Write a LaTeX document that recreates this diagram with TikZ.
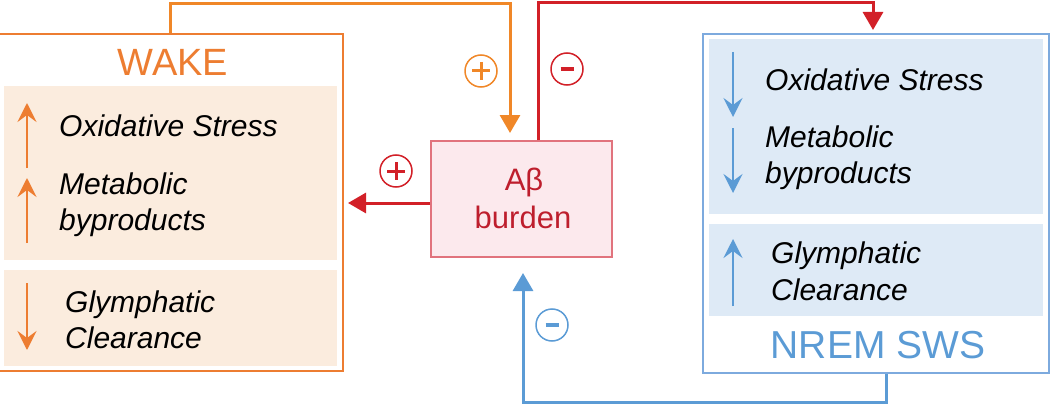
\documentclass[tikz,border=0pt]{standalone}
\usepackage{fontspec}
\setmainfont{Liberation Sans}
\usetikzlibrary{arrows.meta,calc}
\definecolor{orgC}{RGB}{237,125,49}
\definecolor{orgLine}{RGB}{240,135,40}
\definecolor{orgFill}{RGB}{251,236,222}
\definecolor{redC}{RGB}{210,32,40}
\definecolor{redText}{RGB}{190,30,45}
\definecolor{redFill}{RGB}{252,233,237}
\definecolor{redBorder}{RGB}{225,115,125}
\definecolor{bluC}{RGB}{91,155,213}
\definecolor{bluFill}{RGB}{222,234,246}
\definecolor{bluBorder}{RGB}{125,170,222}
\tikzset{
  x=1pt,y=-1pt,
  outerbox/.style={draw=#1,line width=1.6pt,inner sep=0pt},
  panel/.style={fill=#1,draw=none},
  itxt/.style={font=\fontsize{30}{36}\selectfont\itshape,anchor=base west,inner sep=0pt,text=black},
  conn/.style={line width=3pt,draw=#1,-{Triangle[length=18pt,width=20pt]}},
  tiny/.style={line width=2pt,draw=#1,-{Stealth[length=19pt,width=19pt,inset=7pt]}},
  sign/.style={circle,draw=#1,line width=1.5pt,minimum size=32pt,inner sep=0pt},
}
\begin{document}
\begin{tikzpicture}
\useasboundingbox (0,0) rectangle (1050,404);
% WAKE box
\node[outerbox=orgC,minimum width=345pt,minimum height=337pt] (wake) at (170.5,202.5) {};
\fill[orgFill] (4,86) rectangle (337,260);
\fill[orgFill] (4,270) rectangle (337,366);
\node[font=\fontsize{38}{40}\selectfont,text=orgC,anchor=base,inner sep=0pt] (waket) at (173,75) {WAKE};
\coordinate (wa1s) at (27,168); \coordinate (wa1e) at (27,103);
\coordinate (wa2s) at (27,243); \coordinate (wa2e) at (27,178);
\coordinate (wa3s) at (27,283); \coordinate (wa3e) at (27,350);
\draw[tiny=orgC] (wa1s) -- (wa1e);
\draw[tiny=orgC] (wa2s) -- (wa2e);
\draw[tiny=orgC] (wa3s) -- (wa3e);
\node[itxt] (w1) at (59,136) {Oxidative Stress};
\node[itxt] (w2) at (59,194) {Metabolic};
\node[itxt] (w3) at (59,230) {byproducts};
\node[itxt] (w4) at (65,312) {Glymphatic};
\node[itxt] (w5) at (65,348) {Clearance};
% NREM box
\node[outerbox=bluBorder,minimum width=346pt,minimum height=339pt] (nrem) at (876,203.5) {};
\fill[bluFill] (709,39) rectangle (1043,214);
\fill[bluFill] (709,224) rectangle (1043,316);
\node[font=\fontsize{39}{41}\selectfont,text=bluC,anchor=base,inner sep=0pt] (nremt) at (878,358) {NREM SWS};
\coordinate (nb1s) at (733,52); \coordinate (nb1e) at (733,117);
\coordinate (nb2s) at (733,128); \coordinate (nb2e) at (733,193);
\coordinate (nb3s) at (733,306); \coordinate (nb3e) at (733,239);
\draw[tiny=bluC] (nb1s) -- (nb1e);
\draw[tiny=bluC] (nb2s) -- (nb2e);
\draw[tiny=bluC] (nb3s) -- (nb3e);
\node[itxt] (n1) at (765,90) {Oxidative Stress};
\node[itxt] (n2) at (765,147) {Metabolic};
\node[itxt] (n3) at (765,183) {byproducts};
\node[itxt] (n4) at (771,263) {Glymphatic};
\node[itxt] (n5) at (771,300) {Clearance};
% Abeta box
\node[draw=redBorder,fill=redFill,line width=1.3pt,minimum width=181pt,minimum height=116pt,inner sep=0pt] (abeta) at (521.5,199) {};
\node[font=\fontsize{31}{33}\selectfont,text=redText,anchor=base,inner sep=0pt] (abt1) at (524,190) {Aβ};
\node[font=\fontsize{31}{33}\selectfont,text=redText,anchor=base,inner sep=0pt] (abt2) at (523,228) {burden};
% connectors
\coordinate (ytopo) at (0,4);
\coordinate (ytopr) at (0,3);
\coordinate (ybot) at (0,402);
\coordinate (otip) at (510,133);
\coordinate (rtip) at (873,30);
\coordinate (ltip) at (348,203);
\coordinate (btip) at (523,273);
\draw[conn=orgLine] (wake.north) -- (wake.north |- ytopo) -| (otip);
\draw[conn=redC] ([xshift=16.5pt]abeta.north) -- ([xshift=16.5pt]abeta.north |- ytopr) -| (rtip);
\draw[conn=redC] ([yshift=-4pt]abeta.west) -- (ltip);
\draw[conn=bluC] ([xshift=10pt]nrem.south) -- ([xshift=10pt]nrem.south |- ybot) -| (btip);
% signs
\node[sign=orgLine] (s1) at (481,71) {};
\draw[orgLine,line width=3pt] ($(s1)+(-9,0)$) -- ($(s1)+(9,0)$) ($(s1)+(0,-9)$) -- ($(s1)+(0,9)$);
\node[sign=redC] (s2) at (567,69) {};
\draw[redC,line width=4.5pt] ($(s2)+(-6.5,0)$) -- ($(s2)+(6.5,0)$);
\node[sign=redC] (s3) at (396,171) {};
\draw[redC,line width=3pt] ($(s3)+(-9,0)$) -- ($(s3)+(9,0)$) ($(s3)+(0,-9)$) -- ($(s3)+(0,9)$);
\node[sign=bluC] (s4) at (552,325) {};
\draw[bluC,line width=4.5pt] ($(s4)+(-6.5,0)$) -- ($(s4)+(6.5,0)$);
\end{tikzpicture}
\end{document}
